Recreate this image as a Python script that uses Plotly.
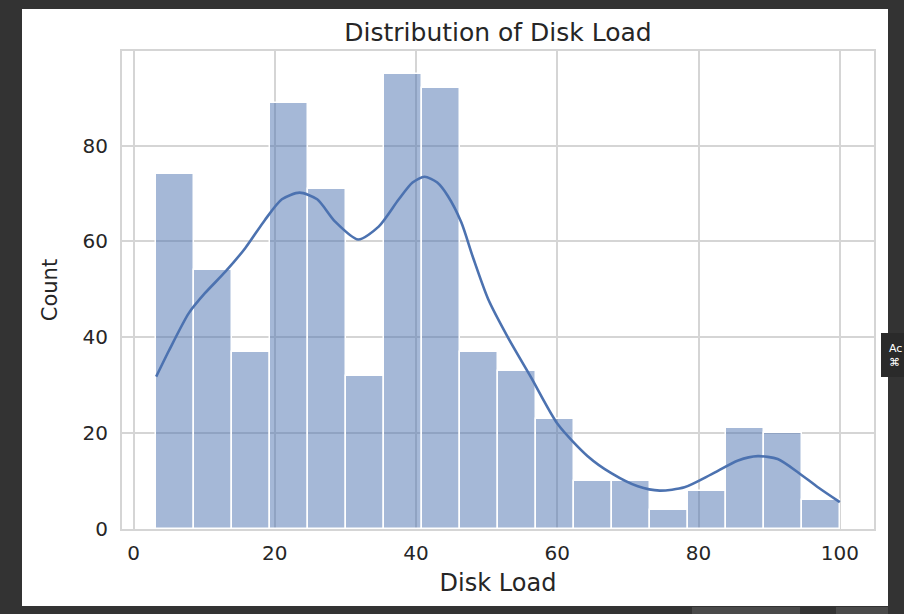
import numpy as np
import plotly.graph_objects as go

# ---- data ----
data_min = 3.2
data_max = 100.0
counts = [74, 54, 37, 89, 71, 32, 95, 92, 37, 33, 23, 10, 10, 4, 8, 21, 20, 6]

kde_x = [3.2, 5.0, 7.8, 10.1, 13.0, 15.8, 18.6, 21.0, 23.5, 26.0, 28.5, 31.8, 34.7,
         37.5, 39.5, 41.2, 43.0, 44.5, 46.4, 48.1, 50.2, 53.0, 56.3, 60.1, 64.3,
         67.7, 71.4, 74.5, 78.0, 81.8, 85.6, 88.4, 91.2, 94.1, 97.0, 100.0]
kde_y = [31.8, 37.2, 45.0, 49.2, 53.7, 58.6, 64.5, 68.8, 70.2, 68.8, 64.2, 60.4, 63.1,
         68.7, 72.3, 73.5, 72.3, 69.5, 64.0, 56.5, 48.0, 40.0, 31.6, 21.8, 15.2,
         11.6, 8.9, 8.0, 8.7, 11.4, 14.3, 15.2, 14.6, 11.8, 8.6, 5.6]

x_ticks = [0, 20, 40, 60, 80, 100]
y_ticks = [0, 20, 40, 60, 80]

title_text = "Distribution of Disk Load"
x_label = "Disk Load"
y_label = "Count"

# ---- derived bins ----
n_bins = len(counts)
edges = np.linspace(data_min, data_max, n_bins + 1)
centers = (edges[:-1] + edges[1:]) / 2
bw = edges[1] - edges[0]

span = data_max - data_min
x_range = [data_min - 0.05 * span, data_max + 0.05 * span]
y_range = [0, max(counts) * 1.05]

W, H = 904, 614
L, R, T, B = 122, 30, 51, 85
pw, ph = W - L - R, H - T - B


def px(x):
    return (x - L) / pw


def py(y):
    return (H - B - y) / ph


fig = go.Figure()
fig.add_trace(go.Bar(
    x=centers, y=counts, width=bw,
    marker=dict(color="rgba(76,114,176,0.5)", line=dict(color="white", width=1.5)),
    showlegend=False, hoverinfo="skip",
))
fig.add_trace(go.Scatter(
    x=kde_x, y=kde_y, mode="lines",
    line=dict(color="#4c72b0", width=2.6, shape="spline", smoothing=0.7),
    showlegend=False, hoverinfo="skip",
))

text_col = "#262626"
grid_col = "#d5d5d5"

fig.update_layout(
    width=W, height=H,
    margin=dict(l=L, r=R, t=T, b=B, pad=0),
    paper_bgcolor="#333333",
    plot_bgcolor="white",
    bargap=0,
    font=dict(family="DejaVu Sans", color=text_col, size=20),
    title=dict(text=title_text, x=498 / W, xanchor="center",
               y=1 - 32 / H, yanchor="middle", font=dict(size=25, color=text_col)),
    xaxis=dict(range=x_range, tickvals=x_ticks, showgrid=True, gridcolor=grid_col, gridwidth=1.6,
               zeroline=False, showline=True, linecolor=grid_col, linewidth=2, mirror=True,
               ticks="", ticklabelstandoff=5, tickfont=dict(size=20, color=text_col),
               title=dict(text=x_label, font=dict(size=24, color=text_col), standoff=10)),
    yaxis=dict(range=y_range, tickvals=y_ticks, showgrid=True, gridcolor=grid_col, gridwidth=1.6,
               zeroline=False, showline=True, linecolor=grid_col, linewidth=2, mirror=True,
               ticks="", ticklabelstandoff=8, tickfont=dict(size=20, color=text_col),
               title=dict(text=y_label, font=dict(size=21, color=text_col), standoff=19)),
    shapes=[
        dict(type="rect", xref="paper", yref="paper", layer="below",
             x0=px(22), x1=px(888), y0=py(606), y1=py(9),
             fillcolor="white", line=dict(width=0)),
        dict(type="rect", xref="paper", yref="paper", layer="above",
             x0=px(692), x1=px(800), y0=py(614), y1=py(607),
             fillcolor="#4a4a4a", line=dict(width=0)),
        dict(type="rect", xref="paper", yref="paper", layer="above",
             x0=px(836), x1=px(888), y0=py(614), y1=py(607),
             fillcolor="#4a4a4a", line=dict(width=0)),
        dict(type="rect", xref="paper", yref="paper", layer="above",
             x0=px(881), x1=px(904), y0=py(377), y1=py(333),
             fillcolor="#2a2a2a", line=dict(width=0)),
    ],
    annotations=[
        dict(text="Ac<br>⌘", xref="paper", yref="paper", x=px(887), y=py(355),
             xanchor="left", yanchor="middle", showarrow=False, align="left",
             font=dict(size=11, color="white", family="DejaVu Sans")),
    ],
)

fig.write_html("out.html", config={"displayModeBar": False},
               post_script="document.body.style.margin='0';document.body.style.overflow='hidden';")
